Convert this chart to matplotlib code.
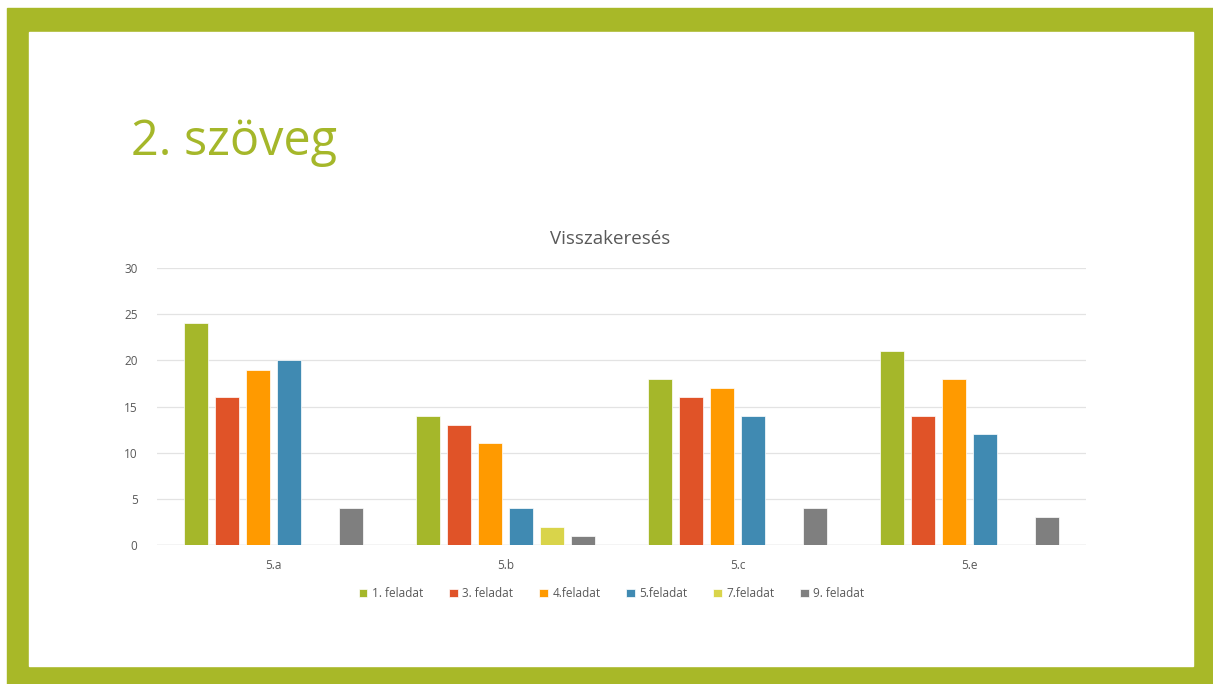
import matplotlib.pyplot as plt
import matplotlib.patches as mpatches
import numpy as np

categories = ["5.a", "5.b", "5.c", "5.e"]
series_names = ["1. feladat", "3. feladat", "4.feladat", "5.feladat", "7.feladat", "9. feladat"]
feladat1 = [24, 14, 18, 21]
feladat3 = [16, 13, 16, 14]
feladat4 = [19, 11, 17, 18]
feladat5 = [20, 4, 14, 12]
feladat7 = [0, 2, 0, 0]
feladat9 = [4, 1, 4, 3]
yticks = [0, 5, 10, 15, 20, 25, 30]

colors = ["#A5B72A", "#E05328", "#FF9A00", "#408AB2", "#D9D44A", "#7F7F7F"]
green = "#A8B828"
gray_text = "#595959"

fig = plt.figure(figsize=(12.13, 6.84), dpi=100)
plt.rcParams['font.family'] = ['Open Sans', 'DejaVu Sans']

# slide frame
W, H = 1213.0, 684.0
fig.patches.append(mpatches.Rectangle((7 / W, 0), 1 - 7 / W, 1 - 8 / H,
                                      transform=fig.transFigure, color=green, zorder=-10))
fig.patches.append(mpatches.Rectangle((29 / W, 18 / H), (1193 - 29) / W, (666 - 32) / H,
                                      transform=fig.transFigure, color="white", zorder=-9))

fig.text(131 / W, 1 - 155 / H, "2. szöveg", color="#A5B72A", fontsize=35,
         ha="left", va="baseline")

ax = fig.add_axes([157 / W, 1 - 545 / H, (1086 - 157) / W, (545 - 268) / H])
ax.set_facecolor("none")
ax.set_zorder(5)

data = [feladat1, feladat3, feladat4, feladat5, feladat7, feladat9]
x = np.arange(len(categories))
step = 0.1335
width = 0.104
for i, (name, vals) in enumerate(zip(series_names, data)):
    ax.bar(x + (i - 2.5) * step, vals, width, color=colors[i], label=name,
           edgecolor="white", linewidth=0.5, zorder=3)

ax.set_xlim(-0.5, 3.5)
ax.set_ylim(0, 30)
ax.set_yticks(yticks)
ax.set_xticks(x)
ax.set_xticklabels(categories)
ax.tick_params(axis="both", length=0, labelsize=8.5, colors=gray_text)
ax.tick_params(axis="x", pad=10)
ax.tick_params(axis="y", pad=14)
ax.grid(axis="y", color="#E3E3E3", linewidth=0.9, zorder=0)
for s in ax.spines.values():
    s.set_visible(False)
ax.axhline(0, color="#D9D9D9", linewidth=1, zorder=2)

ax.set_title("Visszakeresés", fontsize=13.5, color=gray_text, pad=17, x=0.4876)

ax.legend(loc="upper center", bbox_to_anchor=(0.4896, -0.115), ncol=6, frameon=False,
          fontsize=8.5, handlelength=0.7, handleheight=0.7, handletextpad=0.4,
          columnspacing=2.2, labelcolor=gray_text)

fig.savefig("out.png", dpi=100)
